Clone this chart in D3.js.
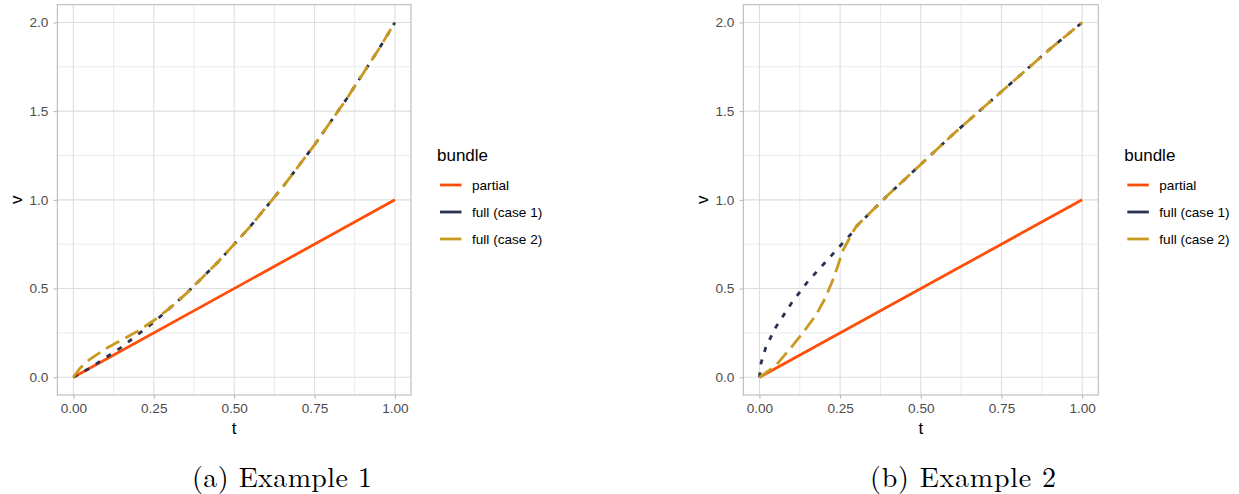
<!DOCTYPE html>
<html>
<head>
<meta charset="utf-8">
<script src="https://cdn.jsdelivr.net/npm/d3@7"></script>
<style>
  body { margin: 0; background: white; }
  svg { display: block; }
  .tick text { font-family: "Liberation Sans", Arial, sans-serif; font-size: 13.6px; fill: #4d4d4d; }
  .tick line { stroke: #b3b3b3; }
  .axis-title { font-family: "Liberation Sans", Arial, sans-serif; font-size: 17px; fill: black; }
  .lg-title { font-family: "Liberation Sans", Arial, sans-serif; font-size: 17px; fill: black; }
  .lg-text { font-family: "Liberation Sans", Arial, sans-serif; font-size: 13.6px; fill: black; }
  .caption { font-family: "Latin Modern Roman", "Liberation Serif", serif; font-size: 28px; fill: black; }
</style>
</head>
<body>
<svg id="chart" width="1239" height="494"></svg>
<script>
// series names / legend
const SERIES = ["partial", "full (case 1)", "full (case 2)"];
const COLORS = ["#ff4e0a", "#293250", "#c99a1f"];
const DASHES = [null, "5,8", "15,7"];
const LEGEND_TITLE = "bundle";
const CAPTIONS = ["(a) Example 1", "(b) Example 2"];

// tick labels
const X_TICKS = [0, 0.25, 0.5, 0.75, 1];
const X_MINOR = [0.125, 0.375, 0.625, 0.875];
const Y_TICKS = [0, 0.5, 1, 1.5, 2];
const Y_MINOR = [0.25, 0.75, 1.25, 1.75];

// Example 1
const partialT = [0, 1];
const partialV = [0, 1];
const ex1Case1T = [0, 0.05, 0.1, 0.15, 0.2, 0.25, 0.3, 0.35, 0.4, 0.45, 0.5, 0.55, 0.6, 0.65, 0.7, 0.75, 0.8, 0.85, 0.9, 0.95, 1];
const ex1Case1V = [0, 0.05, 0.11, 0.17, 0.24, 0.31, 0.39, 0.47, 0.56, 0.65, 0.75, 0.85, 0.96, 1.07, 1.19, 1.31, 1.44, 1.57, 1.71, 1.85, 2.0];
const ex1Case2T = [0, 0.02, 0.05, 0.1, 0.15, 0.2, 0.25, 0.3, 0.35, 0.4, 0.45, 0.5, 0.55, 0.6, 0.65, 0.7, 0.75, 0.8, 0.85, 0.9, 0.95, 1];
const ex1Case2V = [0, 0.05, 0.1, 0.16, 0.21, 0.26, 0.32, 0.39, 0.47, 0.56, 0.65, 0.75, 0.85, 0.96, 1.07, 1.19, 1.31, 1.44, 1.57, 1.71, 1.85, 2.0];

// Example 2
const ex2Case1T = [0, 0.005, 0.02, 0.05, 0.1, 0.15, 0.2, 0.25, 0.29, 0.3, 0.4, 0.5, 0.6, 0.7, 0.8, 0.9, 1];
const ex2Case1V = [0, 0.08, 0.17, 0.28, 0.42, 0.54, 0.64, 0.74, 0.82, 0.85, 1.03, 1.2, 1.37, 1.53, 1.69, 1.85, 2.0];
const ex2Case2T = [0, 0.05, 0.09, 0.13, 0.175, 0.205, 0.23, 0.26, 0.29, 0.3, 0.4, 0.5, 0.6, 0.7, 0.8, 0.9, 1];
const ex2Case2V = [0, 0.065, 0.15, 0.24, 0.35, 0.45, 0.56, 0.72, 0.82, 0.85, 1.03, 1.2, 1.37, 1.53, 1.69, 1.85, 2.0];

const zip = (ts, vs) => ts.map((t, i) => ({t: t, v: vs[i]}));

const panels = [
  { left: 57.3, right: 411, captionX: 282,
    series: [zip(partialT, partialV), zip(ex1Case1T, ex1Case1V), zip(ex1Case2T, ex1Case2V)] },
  { left: 743.3, right: 1098.3, captionX: 963,
    series: [zip(partialT, partialV), zip(ex2Case1T, ex2Case1V), zip(ex2Case2T, ex2Case2V)] }
];

const plotTop = 4.7, plotBottom = 395;
const svg = d3.select("#chart");

panels.forEach((p, pi) => {
  const x = d3.scaleLinear().domain([-0.05, 1.05]).range([p.left, p.right]);
  const y = d3.scaleLinear().domain([-0.1, 2.1]).range([plotBottom, plotTop]);
  const g = svg.append("g");

  // grid
  const grid = g.append("g");
  grid.selectAll(".xminor").data(X_MINOR).join("line")
    .attr("x1", d => x(d)).attr("x2", d => x(d)).attr("y1", plotTop).attr("y2", plotBottom)
    .attr("stroke", "#e8e8e8").attr("stroke-width", 0.9);
  grid.selectAll(".yminor").data(Y_MINOR).join("line")
    .attr("y1", d => y(d)).attr("y2", d => y(d)).attr("x1", p.left).attr("x2", p.right)
    .attr("stroke", "#e8e8e8").attr("stroke-width", 0.9);
  grid.selectAll(".xmajor").data(X_TICKS).join("line")
    .attr("x1", d => x(d)).attr("x2", d => x(d)).attr("y1", plotTop).attr("y2", plotBottom)
    .attr("stroke", "#dedede").attr("stroke-width", 1.1);
  grid.selectAll(".ymajor").data(Y_TICKS).join("line")
    .attr("y1", d => y(d)).attr("y2", d => y(d)).attr("x1", p.left).attr("x2", p.right)
    .attr("stroke", "#dedede").attr("stroke-width", 1.1);

  // lines
  const line = d3.line().x(d => x(d.t)).y(d => y(d.v));
  p.series.forEach((s, i) => {
    g.append("path").datum(s)
      .attr("d", line)
      .attr("fill", "none")
      .attr("stroke", COLORS[i])
      .attr("stroke-width", 2.8)
      .attr("stroke-dasharray", DASHES[i]);
  });

  // border
  g.append("rect")
    .attr("x", p.left).attr("y", plotTop)
    .attr("width", p.right - p.left).attr("height", plotBottom - plotTop)
    .attr("fill", "none").attr("stroke", "#b3b3b3").attr("stroke-width", 1);

  // axes
  const xAxis = g.append("g").attr("transform", `translate(0,${plotBottom})`)
    .call(d3.axisBottom(x).tickValues(X_TICKS).tickFormat(d3.format(".2f")).tickSize(3.7).tickPadding(4.3));
  const yAxis = g.append("g").attr("transform", `translate(${p.left},0)`)
    .call(d3.axisLeft(y).tickValues(Y_TICKS).tickFormat(d3.format(".1f")).tickSize(3.7).tickPadding(5.3));
  [xAxis, yAxis].forEach(a => {
    a.select(".domain").remove();
    a.attr("font-family", null).attr("font-size", null);
  });

  g.append("text").attr("class", "axis-title")
    .attr("x", (p.left + p.right) / 2).attr("y", 434)
    .attr("text-anchor", "middle").text("t");
  g.append("text").attr("class", "axis-title")
    .attr("transform", `translate(${p.left - 35.6},${(plotTop + plotBottom) / 2}) rotate(-90)`)
    .attr("text-anchor", "middle").text("v");

  // legend
  const lg = g.append("g").attr("transform", `translate(${p.right + 26},0)`);
  lg.append("text").attr("class", "lg-title").attr("x", 0).attr("y", 161).text(LEGEND_TITLE);
  SERIES.forEach((name, i) => {
    const yy = 185 + i * 27;
    lg.append("line")
      .attr("x1", 3).attr("x2", 24.5).attr("y1", yy).attr("y2", yy)
      .attr("stroke", COLORS[i]).attr("stroke-width", 2.8);
    lg.append("text").attr("class", "lg-text")
      .attr("x", 35).attr("y", yy + 4.8).text(name);
  });

  // caption
  svg.append("text").attr("class", "caption")
    .attr("x", p.captionX).attr("y", 486.5)
    .attr("text-anchor", "middle")
    .attr("textLength", pi === 0 ? 180 : 186)
    .attr("lengthAdjust", "spacing")
    .text(CAPTIONS[pi]);
});
</script>
</body>
</html>
